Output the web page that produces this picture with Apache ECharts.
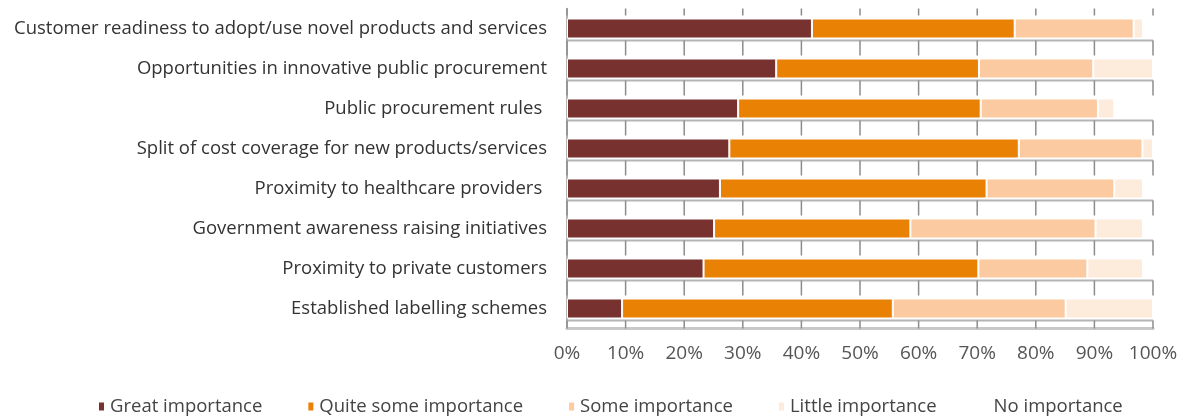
<!DOCTYPE html>
<html>
<head>
<meta charset="utf-8">
<title>Importance of demand-side factors</title>
<script src="https://cdn.jsdelivr.net/npm/echarts@6/dist/echarts.min.js"></script>
<style>
  html, body { margin: 0; padding: 0; background: #fff; }
  #chart { width: 1186px; height: 418px; }
</style>
</head>
<body>
<div id="chart"></div>
<script>
// Factors, top to bottom
const categories = [
  'Customer readiness to adopt/use novel products and services',
  'Opportunities in innovative public procurement',
  'Public procurement rules ',
  'Split of cost coverage for new products/services',
  'Proximity to healthcare providers ',
  'Government awareness raising initiatives',
  'Proximity to private customers',
  'Established labelling schemes'
];

// Share of respondents (%) per answer
const greatImportance     = [41.8, 35.7, 29.2, 27.7, 26.1, 25.1, 23.3,  9.4];
const quiteSomeImportance = [34.6, 34.6, 41.4, 49.4, 45.5, 33.5, 46.9, 46.2];
const someImportance      = [20.3, 19.5, 20.0, 21.1, 21.8, 31.6, 18.6, 29.5];
const littleImportance    = [ 1.6, 10.2,  2.8,  1.8,  4.9,  8.1,  9.5, 14.9];
const noImportance        = [ 1.7,  0.0,  6.6,  0.0,  1.7,  1.7,  1.7,  0.0];

const seriesNames = ['Great importance', 'Quite some importance', 'Some importance', 'Little importance', 'No importance'];
const seriesData = [greatImportance, quiteSomeImportance, someImportance, littleImportance, noImportance];
const seriesColors = ['#77312f', '#e98104', '#fbcaa0', '#fdebdc', '#ffffff'];

// Percent scale and its tick values
const axisMin = 0, axisMax = 100, axisStep = 10;
const percentTicks = [0, 10, 20, 30, 40, 50, 60, 70, 80, 90, 100];

const FONT = '"Open Sans", sans-serif';
const BAR_WIDTH = 20;

const series = seriesNames.map((name, k) => ({
  name: name,
  type: 'bar',
  stack: 'share',
  barWidth: BAR_WIDTH,
  data: seriesData[k],
  itemStyle: { color: seriesColors[k], borderColor: '#ffffff', borderWidth: 1 }
}));

// Ruled tick line beneath every row (and short ticks above the first one),
// placed through the chart's own value and category scales
const RULE = { stroke: '#b4b4b4', lineWidth: 2 };
const TICK = { stroke: '#8c8c8c', lineWidth: 1.5 };
series.push({
  type: 'custom',
  silent: true,
  encode: { x: 0, y: 1 },
  data: categories.map((c, i) => [axisMin, i]),
  renderItem: function (params, api) {
    const row = api.value(1);
    const start = api.coord([axisMin, row]);
    const end = api.coord([axisMax, row]);
    const band = api.size([0, 1])[1];
    const ruleY = start[1] + BAR_WIDTH / 2 + 2;
    const tickLen = row === categories.length - 1 ? 8 : 15;
    const children = [{
      type: 'line',
      shape: { x1: start[0], y1: ruleY, x2: end[0], y2: ruleY },
      style: RULE
    }];
    percentTicks.forEach(v => {
      const x = api.coord([v, row])[0];
      children.push({ type: 'line', shape: { x1: x, y1: ruleY, x2: x, y2: ruleY + tickLen }, style: TICK });
      if (row === 0) {
        const top = start[1] - band / 2;
        children.push({ type: 'line', shape: { x1: x, y1: top, x2: x, y2: top + 7 }, style: TICK });
      }
    });
    return { type: 'group', children: children };
  }
});

const chart = echarts.init(document.getElementById('chart'), null, { renderer: 'canvas' });
chart.setOption({
  animation: false,
  grid: { left: 567, right: 33, top: 8.5, height: 320 },
  xAxis: {
    type: 'value', min: axisMin, max: axisMax, interval: axisStep,
    position: 'bottom',
    splitLine: { show: false },
    axisLine: { show: true, onZero: false, lineStyle: { color: '#c8c8c8', width: 3 } },
    axisTick: { show: false },
    axisLabel: { formatter: '{value}%', color: '#555', fontSize: 19, fontFamily: FONT, margin: 16 }
  },
  yAxis: {
    type: 'category', data: categories, inverse: true,
    axisLine: { show: true, lineStyle: { color: '#9a9a9a', width: 1.5 } },
    axisTick: { show: false },
    axisLabel: { color: '#333', fontSize: 18.5, fontFamily: FONT, margin: 20 }
  },
  legend: {
    data: seriesNames,
    left: 92, top: 392,
    icon: 'rect', itemWidth: 7, itemHeight: 10, itemGap: 44,
    textStyle: { color: '#444', fontSize: 18.5, fontFamily: FONT }
  },
  series: series
});
</script>
</body>
</html>
